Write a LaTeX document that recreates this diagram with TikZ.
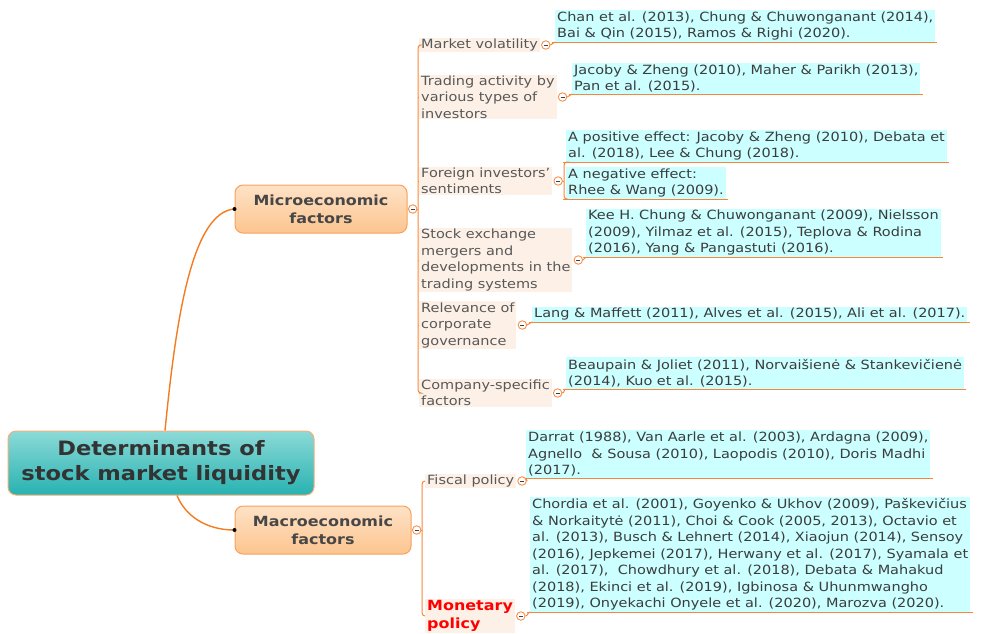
\documentclass[tikz,border=0pt]{standalone}
\usepackage{fontspec}
\setmainfont[FakeStretch=1.14]{DejaVu Sans}
\usetikzlibrary{positioning}

\definecolor{linkorange}{HTML}{F47B20}
\definecolor{branchorange}{HTML}{F6873A}
\definecolor{foldorange}{HTML}{F5904C}
\definecolor{leafcyan}{HTML}{CCFFFF}
\definecolor{topicbg}{HTML}{FDF1E7}
\definecolor{topictext}{HTML}{585858}
\definecolor{leaftext}{HTML}{3C3C3C}
\definecolor{maintext}{HTML}{333333}
\definecolor{roottop}{HTML}{8CDAD7}
\definecolor{rootbottom}{HTML}{27B2B1}
\definecolor{rootborder}{HTML}{F5AE78}
\definecolor{factortop}{HTML}{FEE2C6}
\definecolor{factorbottom}{HTML}{FCC58F}
\definecolor{factorborder}{HTML}{F8A15D}

\newcommand\leaffont{\fontsize{12.7}{16.5}\selectfont}

\begin{document}
\begin{tikzpicture}[x=1pt, y=-1pt,
    central/.style = {rounded corners=8pt, draw=rootborder, line width=1pt,
        top color=roottop, bottom color=rootbottom,
        minimum width=306pt, minimum height=64pt, align=center,
        text=maintext, font=\bfseries\fontsize{19.8}{25}\selectfont},
    factor/.style = {rounded corners=8pt, draw=factorborder, line width=1pt,
        top color=factortop, bottom color=factorbottom,
        minimum height=48pt, align=center,
        text=maintext!90, font=\bfseries\fontsize{14}{18}\selectfont},
    topic/.style = {fill=topicbg, inner xsep=2pt, inner ysep=1pt,
        align=left, anchor=west, text=topictext, font=\leaffont},
    leaf/.style = {fill=leafcyan, inner xsep=2pt, inner ysep=1.5pt,
        align=left, anchor=south west, text=leaftext, font=\leaffont},
    fold/.style = {circle, draw=foldorange, fill=white, minimum size=8.5pt,
        inner sep=0pt, line width=0.9pt,
        path picture={\draw[black!75, line width=0.9pt]
            ([xshift=-2pt]path picture bounding box.center) --
            ([xshift=2pt]path picture bounding box.center);}},
    link/.style = {draw=linkorange, line width=1.4pt},
    branch/.style = {draw=branchorange, line width=1pt},
    uline/.style = {branch, shorten <=-3pt, shorten >=-2pt}]

\useasboundingbox (0,0) rectangle (985,633);

% Central topic
\node[central] (root) at (161,463) {Determinants of\\stock market liquidity};

% Main factors
\node[factor, minimum width=172pt] (micro) at (321,209) {Microeconomic\\factors};
\node[factor, minimum width=176pt] (macro) at (323,530) {Macroeconomic\\factors};
\node[fold, right=0.5pt of micro] (fmi) {};
\node[fold, right=0.5pt of macro] (fma) {};

% Links from the central topic
\draw[link] ([xshift=4pt]root.north) .. controls (175,330) and (190,212) .. (micro.west);
\draw[link] ([xshift=16pt]root.south) .. controls (185,515) and (205,530) .. (macro.west);
\fill (micro.west) circle (2pt);
\fill (macro.west) circle (2pt);

% Microeconomic topics
\node[topic] (mv) at (419,45) {Market volatility};
\node[topic] (ta) at (419,97) {Trading activity by\\various types of\\investors};
\node[topic] (fi) at (419,181) {Foreign investors'\\sentiments};
\node[topic] (se) at (419,260) {Stock exchange\\mergers and\\developments in the\\trading systems};
\node[topic] (rc) at (419,325) {Relevance of\\corporate\\governance};
\node[topic] (cs) at (419,393) {Company-specific\\factors};

% Microeconomic bracket
\coordinate (mib) at (418,209);
\draw[branch] (fmi.east) -- (mib);
\draw[branch, rounded corners=3pt] (mv.west) -| (mib) |- (cs.west);
\foreach \t in {ta,fi,se,rc}
    \draw[branch] (mib |- \t.west) -- (\t.west);

% Microeconomic references
\node[leaf] (l1) at (555,42) {Chan et al. (2013), Chung \& Chuwonganant (2014),\\Bai \& Qin (2015), Ramos \& Righi (2020).};
\node[leaf] (l2) at (572,94) {Jacoby \& Zheng (2010), Maher \& Parikh (2013),\\Pan et al. (2015).};
\node[leaf] (l3a) at (566,162) {A positive effect: Jacoby \& Zheng (2010), Debata et\\al. (2018), Lee \& Chung (2018).};
\node[leaf] (l3b) at (566,199) {A negative effect:\\Rhee \& Wang (2009).};
\node[leaf] (l4) at (586,257) {Kee H. Chung \& Chuwonganant (2009), Nielsson\\(2009), Yilmaz et al. (2015), Teplova \& Rodina\\(2016), Yang \& Pangastuti (2016).};
\node[leaf] (l5) at (532,322) {Lang \& Maffett (2011), Alves et al. (2015), Ali et al. (2017).};
\node[leaf] (l6) at (566,389) {Beaupain \& Joliet (2011), Norvaišienė \& Stankevičienė\\(2014), Kuo et al. (2015).};

\foreach \l in {l1,l2,l3a,l3b,l4,l5,l6}
    \draw[uline] (\l.south west) -- (\l.south east);

% Folds and links to the references
\foreach \t/\l in {mv/l1,ta/l2,se/l4,rc/l5,cs/l6} {
    \node[fold, right=1pt of \t] (f\t) {};
    \draw[branch] (f\t.east) to[out=0, in=180] (\l.south west);
}
\node[fold, right=1pt of fi] (ffi) {};
\coordinate (fib) at (564,181);
\draw[branch] (ffi.east) -- (fib);
\draw[branch, rounded corners=3pt] (l3a.south west) -| (fib) |- (l3b.south west);

% Macroeconomic topics
\node[topic] (fp) at (425,481) {Fiscal policy};
\node[topic, text=red, font=\bfseries\fontsize{14}{18}\selectfont] (mp) at (425,616) {Monetary\\policy};

% Macroeconomic bracket
\coordinate (mab) at (422,530);
\draw[branch] (fma.east) -- (mab);
\draw[branch, rounded corners=3pt] (fp.west) -| (mab) |- (mp.west);

% Macroeconomic references
\node[leaf] (lf) at (526,478) {Darrat (1988), Van Aarle et al. (2003), Ardagna (2009),\\Agnello~ \& Sousa (2010), Laopodis (2010), Doris Madhi\\(2017).};
\node[leaf] (lm) at (530,612) {Chordia et al. (2001), Goyenko \& Ukhov (2009), Paškevičius\\\& Norkaitytė (2011), Choi \& Cook (2005, 2013), Octavio et\\al. (2013), Busch \& Lehnert (2014), Xiaojun (2014), Sensoy\\(2016), Jepkemei (2017), Herwany et al. (2017), Syamala et\\al. (2017),~ Chowdhury et al. (2018), Debata \& Mahakud\\(2018), Ekinci et al. (2019), Igbinosa \& Uhunmwangho\\(2019), Onyekachi Onyele et al. (2020), Marozva (2020).};

\foreach \t/\l in {fp/lf,mp/lm} {
    \draw[uline] (\l.south west) -- (\l.south east);
    \node[fold, right=1pt of \t] (f\t) {};
    \draw[branch] (f\t.east) to[out=0, in=180] (\l.south west);
}
\end{tikzpicture}
\end{document}
